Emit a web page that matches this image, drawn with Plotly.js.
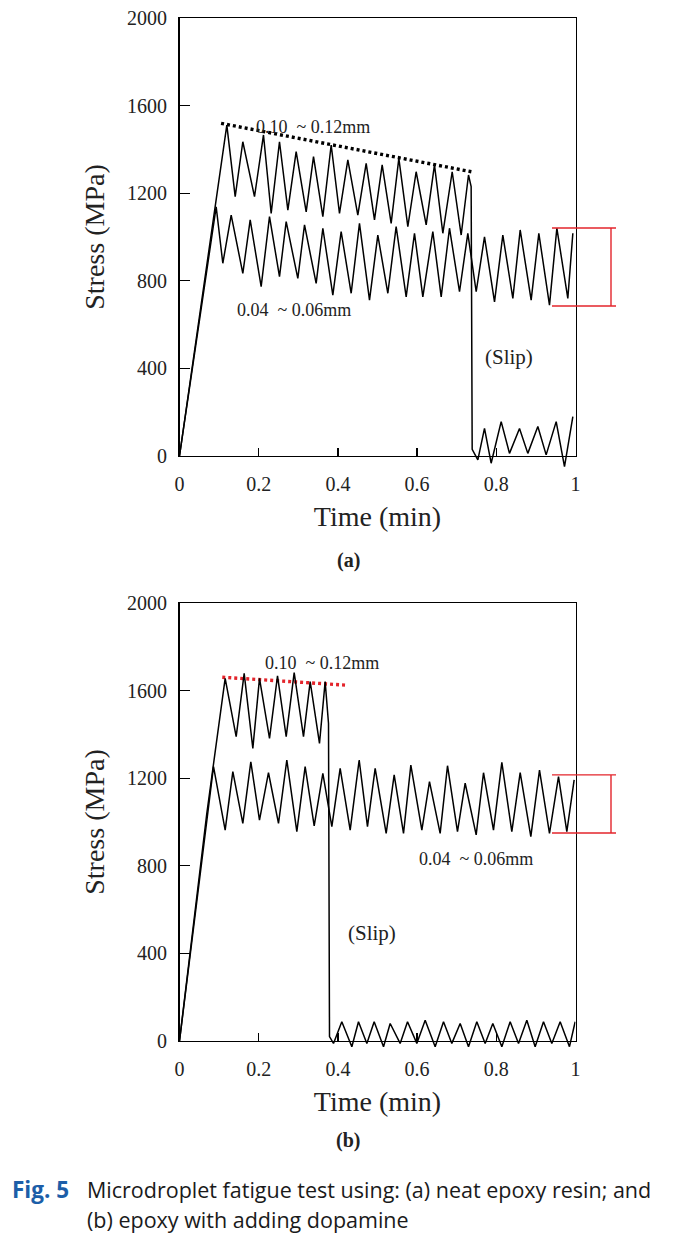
<!DOCTYPE html>
<html><head><meta charset="utf-8">
<script src="https://cdn.plot.ly/plotly-3.0.1.min.js"></script>
<style>html,body{margin:0;padding:0;background:#fff;}</style>
</head><body>
<div id="chart" style="width:681px;height:1239px;"></div>
<script>
// ---------- data ----------
const xTickVals = [0, 0.2, 0.4, 0.6, 0.8, 1];
const xTickText = ['0', '0.2', '0.4', '0.6', '0.8', '1'];
const yTickVals = [0, 400, 800, 1200, 1600, 2000];
const yTickText = ['0', '400', '800', '1200', '1600', '2000'];

// (a) neat epoxy resin
const aUpperX = [0, 0.088, 0.105, 0.1195, 0.1406, 0.1599, 0.1894, 0.2121, 0.2315, 0.2525, 0.2736, 0.2946, 0.3199, 0.3384, 0.3620, 0.3830, 0.4040, 0.4251, 0.4503, 0.4714, 0.4924, 0.5118, 0.5345, 0.5539, 0.5766, 0.5976, 0.6229, 0.6439, 0.6650, 0.6886, 0.7113, 0.7298, 0.7365, 0.7391, 0.7534, 0.7702, 0.7870, 0.8123, 0.8333, 0.8586, 0.8796, 0.9049, 0.9259, 0.9512, 0.9722, 0.9933];
const aUpperY = [0, 1100, 1330, 1511, 1184, 1435, 1184, 1466, 1108, 1435, 1123, 1390, 1115, 1367, 1093, 1420, 1108, 1352, 1100, 1336, 1078, 1329, 1062, 1359, 1047, 1298, 1055, 1329, 1017, 1298, 1009, 1283, 1230, 30, -18, 126, -33, 157, 12, 126, 12, 135, 5, 157, -49, 180];
const aLowerX = [0, 0.0926, 0.1094, 0.1305, 0.1599, 0.1785, 0.2062, 0.2273, 0.2525, 0.2694, 0.2988, 0.3157, 0.3451, 0.3620, 0.3872, 0.4082, 0.4335, 0.4545, 0.4798, 0.5008, 0.5261, 0.5471, 0.5724, 0.5934, 0.6145, 0.6397, 0.6608, 0.6818, 0.7071, 0.7281, 0.7492, 0.7702, 0.7955, 0.8165, 0.8418, 0.8603, 0.8880, 0.9074, 0.9343, 0.9529, 0.9806, 0.9933];
const aLowerY = [0, 1138, 880, 1100, 834, 1078, 773, 1093, 819, 1070, 811, 1055, 788, 1040, 735, 1025, 743, 1062, 712, 1009, 743, 1047, 727, 1017, 727, 1025, 727, 1040, 750, 1017, 750, 1001, 704, 1009, 720, 1032, 712, 1017, 689, 1040, 720, 1017];
const aEnvX = [0.105, 0.737];
const aEnvY = [1519, 1298];
const aBand = [685, 1041];

// (b) epoxy with adding dopamine
const bUpperX = [0, 0.0690, 0.1153, 0.1431, 0.1633, 0.1852, 0.2020, 0.2273, 0.2475, 0.2694, 0.2896, 0.3131, 0.3300, 0.3535, 0.3678, 0.3763, 0.3788, 0.3889, 0.4099, 0.4352, 0.4520, 0.4731, 0.4916, 0.5152, 0.5320, 0.5572, 0.5758, 0.5993, 0.6204, 0.6456, 0.6667, 0.6877, 0.7088, 0.7298, 0.7508, 0.7719, 0.7912, 0.8140, 0.8350, 0.8561, 0.8771, 0.8981, 0.9192, 0.9402, 0.9613, 0.9848, 0.9992];
const bUpperY = [0, 1040, 1656, 1390, 1679, 1336, 1656, 1382, 1667, 1390, 1682, 1390, 1641, 1359, 1641, 1450, 20, -11, 88, -26, 88, -11, 88, -26, 80, -11, 88, -11, 95, -26, 88, -11, 80, -26, 88, -11, 80, -26, 88, -11, 95, -26, 88, -11, 88, -26, 88];
const bLowerX = [0, 0.0859, 0.1153, 0.1347, 0.1599, 0.1801, 0.2020, 0.2247, 0.2500, 0.2710, 0.2963, 0.3173, 0.3401, 0.3620, 0.3847, 0.4057, 0.4310, 0.4537, 0.4747, 0.4941, 0.5219, 0.5421, 0.5657, 0.5842, 0.6120, 0.6313, 0.6582, 0.6768, 0.7020, 0.7214, 0.7492, 0.7677, 0.7929, 0.8140, 0.8392, 0.8603, 0.8872, 0.9091, 0.9343, 0.9571, 0.9781, 0.9966];
const bLowerY = [0, 1253, 963, 1230, 994, 1275, 1009, 1225, 994, 1283, 956, 1253, 982, 1222, 979, 1245, 963, 1283, 979, 1245, 948, 1215, 948, 1260, 963, 1184, 948, 1257, 956, 1177, 941, 1225, 963, 1272, 956, 1225, 933, 1237, 948, 1207, 956, 1192];
const bEnvX = [0.108, 0.419];
const bEnvY = [1661, 1625];
const bBand = [950, 1215];

// ---------- layout helpers ----------
const H = 1239;
const serif = 'Liberation Serif, Times New Roman, serif';
const sans = 'Open Sans, Noto Sans, sans-serif';
const xDom = [179.5 / 681, 575.5 / 681];
const yDomA = [1 - 456 / H, 1 - 18 / H];
const yDomB = [1 - 1041 / H, 1 - 603 / H];
const ext = 16; // px of extra room below axis for data that dips below zero
const yDomA2 = [1 - (456 + ext) / H, 1 - 18 / H];
const yDomB2 = [1 - (1041 + ext) / H, 1 - 603 / H];
const extVal = -ext / (438 / 2000);

const black = '#000';
const red = '#e3242b';

function visX(anchor) {
  return {
    domain: xDom, range: [0, 1], anchor: anchor,
    showgrid: false, zeroline: false, showline: true, mirror: true,
    linecolor: black, linewidth: 1.4,
    ticks: 'inside', ticklen: 8, tickwidth: 1.4, tickcolor: black,
    tickvals: xTickVals, ticktext: xTickText,
    tickfont: {family: serif, size: 20, color: '#222'},
    ticklabelstandoff: 10,
    title: {text: 'Time (min)', font: {family: serif, size: 28, color: '#222'}, standoff: 12},
    fixedrange: true
  };
}
function visY(anchor, dom) {
  return {
    domain: dom, range: [0, 2000], anchor: anchor,
    showgrid: false, zeroline: false, showline: true, mirror: true,
    linecolor: black, linewidth: 1.4,
    ticks: 'inside', ticklen: 10, tickwidth: 1.4, tickcolor: black,
    tickvals: yTickVals, ticktext: yTickText,
    tickfont: {family: serif, size: 20, color: '#222'},
    ticklabelstandoff: 7,
    title: {text: 'Stress (MPa)', font: {family: serif, size: 28, color: '#222'}, standoff: 14},
    fixedrange: true
  };
}
function hidX(anchor) {
  return {domain: xDom, range: [0, 1], anchor: anchor, visible: false, fixedrange: true};
}
function hidY(anchor, dom) {
  return {domain: dom, range: [extVal, 2000], anchor: anchor, visible: false, fixedrange: true};
}

function zig(x, y, xa, ya) {
  return {x: x, y: y, xaxis: xa, yaxis: ya, type: 'scatter', mode: 'lines',
          line: {color: black, width: 1.5}, hoverinfo: 'skip', showlegend: false};
}
function env(x, y, xa, ya, color) {
  return {x: x, y: y, xaxis: xa, yaxis: ya, type: 'scatter', mode: 'lines',
          line: {color: color, width: 3.4, dash: '3px,3px'}, hoverinfo: 'skip', showlegend: false};
}

const traces = [
  env(aEnvX, aEnvY, 'x', 'y', black),
  env(bEnvX, bEnvY, 'x2', 'y2', red),
  zig(aUpperX, aUpperY, 'x3', 'y3'),
  zig(aLowerX, aLowerY, 'x3', 'y3'),
  zig(bUpperX, bUpperY, 'x4', 'y4'),
  zig(bLowerX, bLowerY, 'x4', 'y4')
];

function bracket(yref, band) {
  const x0 = 552 / 681, x1 = 616 / 681, xv = 611 / 681;
  const st = {color: red, width: 1.4};
  return [
    {type: 'line', xref: 'paper', yref: yref, x0: x0, x1: x1, y0: band[1], y1: band[1], line: st},
    {type: 'line', xref: 'paper', yref: yref, x0: x0, x1: x1, y0: band[0], y1: band[0], line: st},
    {type: 'line', xref: 'paper', yref: yref, x0: xv, x1: xv, y0: band[0], y1: band[1], line: st}
  ];
}

function lbl(text, x, y, xref, yref, size, xanchor) {
  return {text: text, x: x, y: y, xref: xref, yref: yref, showarrow: false,
          xanchor: xanchor, yanchor: 'middle',
          font: {family: serif, size: size, color: '#222'}};
}

const annotations = [
  lbl('0.10\u00a0 ~ 0.12mm', 0.189, 1502, 'x', 'y', 18, 'left'),
  lbl('0.04\u00a0 ~ 0.06mm', 0.139, 667, 'x', 'y', 18, 'left'),
  lbl('(Slip)', 0.831, 452, 'x', 'y', 21, 'center'),
  lbl('0.10\u00a0 ~ 0.12mm', 0.211, 1726, 'x2', 'y2', 18, 'left'),
  lbl('0.04\u00a0 ~ 0.06mm', 0.600, 831, 'x2', 'y2', 18, 'left'),
  lbl('(Slip)', 0.486, 493, 'x2', 'y2', 21, 'center'),
  lbl('<b>(a)</b>', 348 / 681, 1 - 560 / H, 'paper', 'paper', 20, 'center'),
  lbl('<b>(b)</b>', 348 / 681, 1 - 1140 / H, 'paper', 'paper', 20, 'center'),
  {text: '<b>Fig. 5</b>', x: 10 / 681, y: 1 - 1189 / H, xref: 'paper', yref: 'paper',
   showarrow: false, xanchor: 'left', yanchor: 'middle',
   font: {family: sans, size: 22.5, color: '#1c5ea8'}},
  {text: 'Microdroplet fatigue test using: (a) neat epoxy resin; and', x: 85 / 681, y: 1 - 1189 / H,
   xref: 'paper', yref: 'paper', showarrow: false, xanchor: 'left', yanchor: 'middle',
   font: {family: sans, size: 21.5, color: '#1a1a1a'}},
  {text: '(b) epoxy with adding dopamine', x: 85 / 681, y: 1 - 1219 / H,
   xref: 'paper', yref: 'paper', showarrow: false, xanchor: 'left', yanchor: 'middle',
   font: {family: sans, size: 21.5, color: '#1a1a1a'}}
];

const layout = {
  width: 681, height: 1239,
  margin: {l: 0, r: 0, t: 0, b: 0, pad: 0},
  paper_bgcolor: '#fff', plot_bgcolor: 'rgba(0,0,0,0)',
  showlegend: false,
  xaxis: visX('y'), yaxis: visY('x', yDomA),
  xaxis2: visX('y2'), yaxis2: visY('x2', yDomB),
  xaxis3: hidX('y3'), yaxis3: hidY('x3', yDomA2),
  xaxis4: hidX('y4'), yaxis4: hidY('x4', yDomB2),
  shapes: bracket('y', aBand).concat(bracket('y2', bBand)),
  annotations: annotations
};

Plotly.newPlot('chart', traces, layout, {staticPlot: true, displayModeBar: false});
</script>
</body></html>
